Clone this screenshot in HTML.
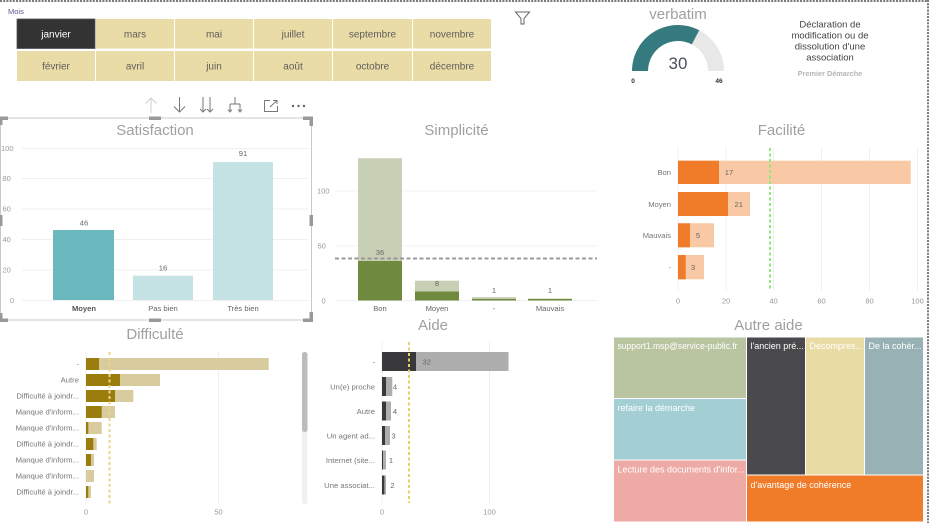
<!DOCTYPE html>
<html>
<head>
<meta charset="utf-8">
<style>
html,body{margin:0;padding:0;background:#fff;}
body{width:933px;height:523px;overflow:hidden;}
svg{display:block;font-family:"Liberation Sans",sans-serif;}
</style>
</head>
<body>
<svg width="933" height="523" viewBox="0 0 933 523" xmlns="http://www.w3.org/2000/svg">
<rect x="0" y="0" width="933" height="523" fill="#fff"/>
<!-- page borders -->
<line x1="0" y1="1" x2="929" y2="1" stroke="#7a7a7a" stroke-width="2" stroke-dasharray="2 1.2"/>
<line x1="928" y1="0" x2="928" y2="523" stroke="#7a7a7a" stroke-width="2" stroke-dasharray="2 1.2"/>

<!-- Slicer -->
<text x="8" y="14" font-size="7.5" fill="#5d5b8c">Mois</text>
<g font-size="10" fill="#605e5c" text-anchor="middle">
<rect x="17" y="19" width="78" height="29.5" fill="#333333" stroke="#555" stroke-width="0.8"/>
<text x="56" y="37.5" fill="#ffffff">janvier</text>
<rect x="96" y="19" width="78" height="29.5" fill="#e9dca6"/><text x="135" y="37.5">mars</text>
<rect x="175" y="19" width="78" height="29.5" fill="#e9dca6"/><text x="214" y="37.5">mai</text>
<rect x="254" y="19" width="78" height="29.5" fill="#e9dca6"/><text x="293" y="37.5">juillet</text>
<rect x="333" y="19" width="79" height="29.5" fill="#e9dca6"/><text x="372.5" y="37.5">septembre</text>
<rect x="413" y="19" width="78" height="29.5" fill="#e9dca6"/><text x="452" y="37.5">novembre</text>
<rect x="17" y="51" width="78" height="30" fill="#e9dca6"/><text x="56" y="69.5">février</text>
<rect x="96" y="51" width="78" height="30" fill="#e9dca6"/><text x="135" y="69.5">avril</text>
<rect x="175" y="51" width="78" height="30" fill="#e9dca6"/><text x="214" y="69.5">juin</text>
<rect x="254" y="51" width="78" height="30" fill="#e9dca6"/><text x="293" y="69.5">août</text>
<rect x="333" y="51" width="79" height="30" fill="#e9dca6"/><text x="372.5" y="69.5">octobre</text>
<rect x="413" y="51" width="78" height="30" fill="#e9dca6"/><text x="452" y="69.5">décembre</text>
</g>

<!-- filter icon -->
<path d="M515.5,12 L529.5,12 L524,18.5 L524,24 L521,24 L521,18.5 Z" fill="none" stroke="#666" stroke-width="1"/>

<!-- Gauge -->
<text x="678" y="19" font-size="15" fill="#a0a0a0" text-anchor="middle">verbatim</text>
<path d="M632,71 A46,46 0 0 1 724,71 L708,71 A30,30 0 0 0 648,71 Z" fill="#e8e8e8"/>
<path d="M632,71 A46,46 0 0 1 699.2,30.2 L691.8,44.4 A30,30 0 0 0 648,71 Z" fill="#357a7e"/>
<text x="678" y="69" font-size="17" fill="#4a4f5a" text-anchor="middle">30</text>
<text x="633" y="83" font-size="6.5" font-weight="bold" fill="#333" text-anchor="middle">0</text>
<text x="719" y="83" font-size="6.5" font-weight="bold" fill="#333" text-anchor="middle">46</text>

<g font-size="9.5" fill="#444" text-anchor="middle">
<text x="830" y="27.5">Déclaration de</text>
<text x="830" y="38.5">modification ou de</text>
<text x="830" y="49.5">dissolution d'une</text>
<text x="830" y="60.5">association</text>
</g>
<text x="830" y="76" font-size="7.3" font-weight="bold" fill="#b5b5b5" text-anchor="middle">Premier Démarche</text>

<!-- visual header icons -->
<g fill="none" stroke-width="1">
<path d="M151,98 L151,113 M145.5,103.5 L151,98 L156.5,103.5" stroke="#cfcfcf"/>
<path d="M179.5,97 L179.5,112 M174,106.5 L179.5,112 L185,106.5" stroke="#777"/>
<path d="M203,97 L203,112 M200,109 L203,112 L206,109 M210,97 L210,112 M207,109 L210,112 L213,109" stroke="#777"/>
<path d="M235,97 L235,104 M230,104 L240,104 M230,104 L230,112 M240,104 L240,112 M228,109.5 L230,112 L232,109.5 M238,109.5 L240,112 L242,109.5" stroke="#777"/>
<path d="M264.5,100.5 L270,100.5 M264.5,100.5 L264.5,111.5 L277.5,111.5 L277.5,106 M270,107 L277,100.5 M273,100.5 L277,100.5 L277,104" stroke="#777"/>
</g>
<g fill="#666"><circle cx="293" cy="106" r="1.2"/><circle cx="298.5" cy="106" r="1.2"/><circle cx="304" cy="106" r="1.2"/></g>

<!-- Satisfaction selection frame -->
<g>
<rect x="0.5" y="118" width="311" height="202" fill="none" stroke="#c8c8c8" stroke-width="1"/>
<rect x="149" y="116.5" width="12" height="3.5" fill="#999"/>
<rect x="149" y="318.5" width="12" height="3.5" fill="#999"/>
<path d="M303,116.5 L313,116.5 L313,126 L309.5,126 L309.5,120 L303,120 Z" fill="#999"/>
<path d="M303,322 L313,322 L313,312 L309.5,312 L309.5,318.5 L303,318.5 Z" fill="#999"/>
<path d="M0,116.5 L8,116.5 L8,120 L2.5,120 L2.5,125 L0,125 Z" fill="#999"/>
<path d="M0,322 L8,322 L8,318.5 L2.5,318.5 L2.5,313 L0,313 Z" fill="#999"/>
<rect x="309.5" y="215" width="3.5" height="11" fill="#999"/>
<rect x="0" y="215" width="2.5" height="11" fill="#999"/>
</g>

<!-- Satisfaction chart -->
<text x="155" y="135" font-size="15" fill="#a0a0a0" text-anchor="middle">Satisfaction</text>
<g stroke="#efefef" stroke-width="1">
<line x1="22" y1="148.5" x2="308" y2="148.5"/>
<line x1="22" y1="178.5" x2="308" y2="178.5"/>
<line x1="22" y1="209" x2="308" y2="209"/>
<line x1="22" y1="239.5" x2="308" y2="239.5"/>
<line x1="22" y1="270" x2="308" y2="270"/>
<line x1="22" y1="300.5" x2="308" y2="300.5"/>
</g>
<g font-size="7.5" fill="#999">
<text x="1" y="151">100</text>
<text x="2.5" y="181">80</text>
<text x="2.5" y="211.5">60</text>
<text x="2.5" y="242">40</text>
<text x="2.5" y="272.5">20</text>
<text x="10" y="303">0</text>
</g>
<rect x="53" y="230" width="61" height="70" fill="#6bb9bf"/>
<rect x="133" y="275.7" width="60" height="24.3" fill="#c5e3e5"/>
<rect x="213" y="162" width="60" height="138" fill="#c5e3e5"/>
<g font-size="7.6" fill="#666" text-anchor="middle">
<text x="84" y="225.5">46</text>
<text x="163" y="270.5">16</text>
<text x="243" y="156">91</text>
<text x="84" y="311" font-weight="bold" fill="#555">Moyen</text>
<text x="163" y="311">Pas bien</text>
<text x="243" y="311">Très bien</text>
</g>

<!-- Simplicité -->
<text x="456.5" y="135" font-size="15" fill="#a0a0a0" text-anchor="middle">Simplicité</text>
<g stroke="#f0f0f0" stroke-width="1">
<line x1="335" y1="191" x2="597" y2="191"/>
<line x1="335" y1="246" x2="597" y2="246"/>
<line x1="335" y1="300.5" x2="597" y2="300.5"/>
</g>
<g font-size="7.5" fill="#999">
<text x="317" y="193.5">100</text>
<text x="317.5" y="248.5">50</text>
<text x="321.5" y="303.5">0</text>
</g>
<rect x="358" y="158.3" width="44" height="142.2" fill="#c7d0b5"/>
<rect x="358" y="261" width="44" height="39.5" fill="#6f8a3e"/>
<rect x="415" y="280.7" width="44" height="19.8" fill="#c7d0b5"/>
<rect x="415" y="291.5" width="44" height="9" fill="#6f8a3e"/>
<rect x="472" y="297" width="44" height="3.5" fill="#c7d0b5"/>
<rect x="472" y="299" width="44" height="1.5" fill="#6f8a3e"/>
<rect x="528" y="298.8" width="44" height="1.7" fill="#6f8a3e"/>
<line x1="335" y1="258.5" x2="597" y2="258.5" stroke="#999" stroke-width="2" stroke-dasharray="4 2.5"/>
<g font-size="7.6" fill="#666" text-anchor="middle">
<text x="380" y="255">36</text>
<text x="437" y="286">8</text>
<text x="494" y="293">1</text>
<text x="550" y="293">1</text>
<text x="380" y="311">Bon</text>
<text x="437" y="311">Moyen</text>
<text x="494" y="311">-</text>
<text x="550" y="311">Mauvais</text>
</g>

<!-- Facilité -->
<text x="781.5" y="135" font-size="15" fill="#a0a0a0" text-anchor="middle">Facilité</text>
<g stroke="#efefef" stroke-width="1">
<line x1="678" y1="148" x2="678" y2="290"/>
<line x1="726" y1="148" x2="726" y2="290"/>
<line x1="773.5" y1="148" x2="773.5" y2="290"/>
<line x1="821.5" y1="148" x2="821.5" y2="290"/>
<line x1="869.5" y1="148" x2="869.5" y2="290"/>
<line x1="917.5" y1="148" x2="917.5" y2="290"/>
</g>
<rect x="678" y="160.7" width="232.7" height="23.3" fill="#f8c9a4"/>
<rect x="678" y="160.7" width="41" height="23.3" fill="#f07b28"/>
<rect x="678" y="192" width="72" height="24" fill="#f8c9a4"/>
<rect x="678" y="192" width="50" height="24" fill="#f07b28"/>
<rect x="678" y="223.3" width="36" height="24" fill="#f8c9a4"/>
<rect x="678" y="223.3" width="12" height="24" fill="#f07b28"/>
<rect x="678" y="255" width="26" height="24.3" fill="#f8c9a4"/>
<rect x="678" y="255" width="7.7" height="24.3" fill="#f07b28"/>
<line x1="770" y1="148" x2="770" y2="290" stroke="#8fe87c" stroke-width="2" stroke-dasharray="3 2.5"/>
<g font-size="7.6" fill="#666">
<text x="729" y="175" text-anchor="middle">17</text>
<text x="738.7" y="207" text-anchor="middle">21</text>
<text x="698" y="238" text-anchor="middle">5</text>
<text x="693" y="270" text-anchor="middle">3</text>
<text x="671" y="175" text-anchor="end" fill="#777">Bon</text>
<text x="671" y="207" text-anchor="end" fill="#777">Moyen</text>
<text x="671" y="238" text-anchor="end" fill="#777">Mauvais</text>
<text x="671" y="270" text-anchor="end" fill="#777">-</text>
</g>
<g font-size="7.5" fill="#999" text-anchor="middle">
<text x="678" y="303.5">0</text>
<text x="726" y="303.5">20</text>
<text x="773.5" y="303.5">40</text>
<text x="821.5" y="303.5">60</text>
<text x="869.5" y="303.5">80</text>
<text x="917.5" y="303.5">100</text>
</g>

<!-- Difficulté -->
<text x="155" y="339" font-size="15" fill="#a0a0a0" text-anchor="middle">Difficulté</text>
<g stroke="#efefef" stroke-width="1">
<line x1="86" y1="352" x2="86" y2="503"/>
<line x1="218.5" y1="352" x2="218.5" y2="503"/>
</g>
<g fill="#d8cc9f">
<rect x="86" y="358" width="182.7" height="12"/>
<rect x="86" y="374" width="74" height="12"/>
<rect x="86" y="390" width="47.3" height="12"/>
<rect x="86" y="406" width="29" height="12"/>
<rect x="86" y="422" width="15.7" height="12"/>
<rect x="86" y="438" width="10.7" height="12"/>
<rect x="86" y="454" width="8" height="12"/>
<rect x="86" y="470" width="8" height="12"/>
<rect x="86" y="486" width="5" height="12"/>
</g>
<g fill="#9b7d0e">
<rect x="86" y="358" width="13" height="12"/>
<rect x="86" y="374" width="34" height="12"/>
<rect x="86" y="390" width="29" height="12"/>
<rect x="86" y="406" width="15.7" height="12"/>
<rect x="86" y="422" width="2.3" height="12"/>
<rect x="86" y="438" width="7.3" height="12"/>
<rect x="86" y="454" width="5" height="12"/>
<rect x="86" y="486" width="2.3" height="12"/>
</g>
<line x1="109.5" y1="352" x2="109.5" y2="505" stroke="#ead58a" stroke-width="2" stroke-dasharray="3 2.5"/>
<g font-size="7.7" fill="#777" text-anchor="end">
<text x="79" y="366.5">-</text>
<text x="79" y="382.5">Autre</text>
<text x="79" y="398.5">Difficulté à joindr...</text>
<text x="79" y="414.5">Manque d'inform...</text>
<text x="79" y="430.5">Manque d'inform...</text>
<text x="79" y="446.5">Difficulté à joindr...</text>
<text x="79" y="462.5">Manque d'inform...</text>
<text x="79" y="478.5">Manque d'inform...</text>
<text x="79" y="494.5">Difficulté à joindr...</text>
</g>
<g font-size="7.5" fill="#999" text-anchor="middle">
<text x="86" y="514.5">0</text>
<text x="218.5" y="514.5">50</text>
</g>
<rect x="302" y="352" width="5.5" height="152" rx="2.5" fill="#f0f0f0"/>
<rect x="302" y="352" width="5.5" height="80" rx="2.5" fill="#bcbcbc"/>

<!-- Aide -->
<text x="433" y="330" font-size="15" fill="#a0a0a0" text-anchor="middle">Aide</text>
<g stroke="#efefef" stroke-width="1">
<line x1="382" y1="342" x2="382" y2="503"/>
<line x1="489.5" y1="342" x2="489.5" y2="503"/>
</g>
<g fill="#aeaeae">
<rect x="382" y="352" width="126.5" height="19"/>
<rect x="382" y="377" width="10.3" height="19"/>
<rect x="382" y="401.5" width="9" height="19"/>
<rect x="382" y="426" width="8" height="19"/>
<rect x="382" y="450.5" width="4" height="19"/>
<rect x="382" y="475.5" width="4" height="19"/>
</g>
<g fill="#39393b">
<rect x="382" y="352" width="34" height="19"/>
<rect x="382" y="377" width="4" height="19"/>
<rect x="382" y="401.5" width="4" height="19"/>
<rect x="382" y="426" width="3" height="19"/>
<rect x="382" y="450.5" width="1" height="19"/>
<rect x="382" y="475.5" width="2.3" height="19"/>
</g>
<line x1="409" y1="342" x2="409" y2="503" stroke="#e8cf6a" stroke-width="2" stroke-dasharray="3 2.5"/>
<g font-size="7.6" fill="#666" text-anchor="middle">
<text x="426.7" y="364.5">32</text>
<text x="395" y="389.5">4</text>
<text x="395" y="414">4</text>
<text x="393.5" y="438.5">3</text>
<text x="391" y="463">1</text>
<text x="392.5" y="488">2</text>
</g>
<g font-size="7.7" fill="#777" text-anchor="end">
<text x="375" y="364.5">-</text>
<text x="375" y="389.5">Un(e) proche</text>
<text x="375" y="414">Autre</text>
<text x="375" y="438.5">Un agent ad...</text>
<text x="375" y="463">Internet (site...</text>
<text x="375" y="488">Une associat...</text>
</g>
<g font-size="7.5" fill="#999" text-anchor="middle">
<text x="382" y="514.5">0</text>
<text x="489.5" y="514.5">100</text>
</g>

<!-- Autre aide treemap -->
<text x="768.5" y="330" font-size="15" fill="#a0a0a0" text-anchor="middle">Autre aide</text>
<g stroke="#ffffff" stroke-width="1">
<rect x="613.5" y="337" width="133" height="61.5" fill="#b9c4a1"/>
<rect x="613.5" y="398.5" width="133" height="61.5" fill="#a3cfd4"/>
<rect x="613.5" y="460" width="133" height="62" fill="#eeaba6"/>
<rect x="746.5" y="337" width="59" height="138" fill="#4a4a4d"/>
<rect x="805.5" y="337" width="59" height="138" fill="#e9dba4"/>
<rect x="864.5" y="337" width="59" height="138" fill="#98b1b5"/>
<rect x="746.5" y="475" width="177" height="47" fill="#f07b28"/>
</g>
<g font-size="9" fill="#ffffff">
<text x="617.5" y="349" textLength="120" lengthAdjust="spacingAndGlyphs">support1.msp@service-public.fr</text>
<text x="617.5" y="411">refaire la démarche</text>
<text x="617.5" y="472.5">Lecture des documents d'infor...</text>
<text x="750.5" y="349">l'ancien pré...</text>
<text x="809.5" y="349">Décompres...</text>
<text x="868.5" y="349">De la cohér...</text>
<text x="750.5" y="488">d'avantage de cohérence</text>
</g>
</svg>
</body>
</html>
